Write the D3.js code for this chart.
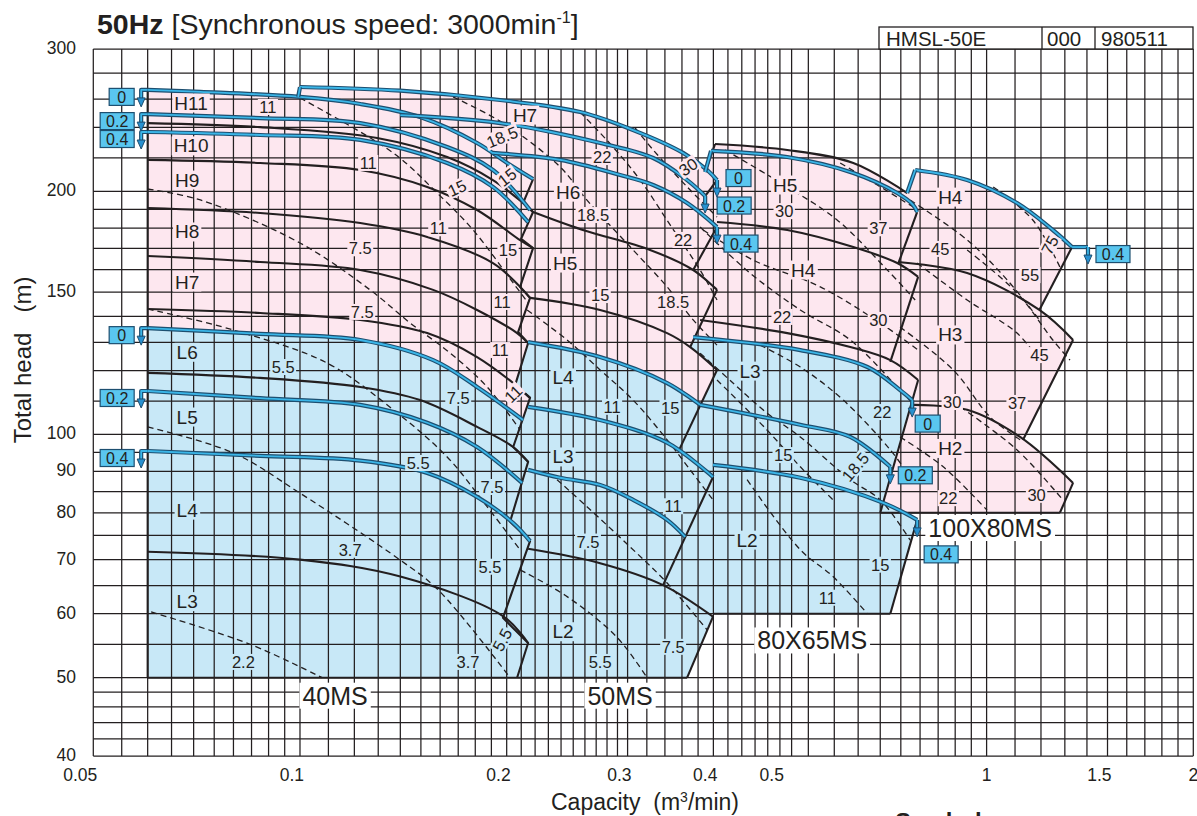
<!DOCTYPE html>
<html><head><meta charset="utf-8">
<script src="https://cdn.jsdelivr.net/npm/d3@7"></script>
<style>body{margin:0;background:#fff}svg text{font-family:"Liberation Sans",Arial,Helvetica,sans-serif;fill:#231f20}</style>
</head><body><svg id="c" width="1197" height="816"></svg>
<script>
// ---------------- grid / axes ----------------
const gridQ=[0.05,0.055,0.06,0.065,0.07,0.075,0.08,0.085,0.09,0.095,0.1,0.11,0.12,0.13,0.14,0.15,0.16,0.17,0.18,0.19,0.2,0.21,0.22,0.23,0.24,0.25,0.26,0.27,0.28,0.29,0.3,0.32,0.34,0.36,0.38,0.4,0.42,0.44,0.46,0.48,0.5,0.52,0.55,0.6,0.65,0.7,0.75,0.8,0.85,0.9,0.95,1,1.1,1.2,1.3,1.4,1.5,1.6,1.7,1.8,1.9,2];
const gridH=[40,42,44,46,48,50,55,60,65,70,75,80,85,90,95,100,110,120,130,140,150,160,170,180,190,200,220,240,260,280,300];
const xTicks=["0.05","0.1","0.2","0.3","0.4","0.5","1","1.5","2"];
const yTicks=["40","50","60","70","80","90","100","150","200","300"];

// ---------------- 40MS ----------------
const ms40_H0=[[0.06,267.0],[0.0716,265.5],[0.1,261.7],[0.1224,256.5],[0.1496,247.1],[0.1811,229.5],[0.2003,216.8],[0.2185,207.1]];
const ms40_H02=[[0.06,249.2],[0.0875,246.4],[0.1224,242.9],[0.1638,226.9],[0.191,212.5],[0.2163,189.6]];
const ms40_Hk1=[[0.06,242.9],[0.0875,240.1],[0.1295,232.8],[0.1638,220.5],[0.191,206.5],[0.2113,193.4],[0.2185,188.5]];
const ms40_H04=[[0.06,236.8],[0.0875,234.8],[0.1224,231.5],[0.1638,216.8],[0.191,202.5],[0.2149,183.2]];
const ms40_Hk2=[[0.06,218.7],[0.0875,216.8],[0.1224,212.5],[0.1532,202.5],[0.1811,189.6],[0.2092,174.0],[0.2185,170.1]];
const ms40_Hk3=[[0.06,190.7],[0.0875,188.0],[0.1224,182.7],[0.1532,175.6],[0.191,163.0],[0.2092,152.3],[0.2163,147.6]];
const ms40_Hk4=[[0.06,166.3],[0.0875,163.5],[0.1224,159.8],[0.1563,151.0],[0.1811,142.6],[0.2071,133.5],[0.2149,129.8]];
const ms40_Hk5=[[0.06,143.0],[0.0875,141.4],[0.1224,138.6],[0.1532,133.5],[0.1811,124.7],[0.2044,115.8],[0.2163,111.0]];
const ms40_L0=[[0.06,135.4],[0.0875,133.2],[0.1224,130.9],[0.1563,123.6],[0.1811,114.5],[0.2113,104.2]];
const ms40_Lk1=[[0.06,119.2],[0.0875,117.5],[0.1224,114.5],[0.1496,110.3],[0.1811,102.2],[0.2044,96.5],[0.2149,92.5]];
const ms40_L02=[[0.06,113.2],[0.0875,110.9],[0.1224,108.8],[0.1532,103.4],[0.1811,96.5],[0.2106,87.1]];
const ms40_L04=[[0.06,95.4],[0.0875,94.1],[0.1224,92.8],[0.1532,89.6],[0.1811,83.7],[0.2044,77.7],[0.2163,73.8]];
const ms40_Lk2=[[0.06,71.6],[0.1,70.0],[0.14,66.7],[0.1975,59.6],[0.2149,55.2]];
const ms40_edge=[[0.2185,207.1],[0.2113,193.4],[0.2185,188.5],[0.2099,174.6],[0.2185,170.1],[0.2092,152.3],[0.2163,147.6],[0.2078,133.9],[0.2149,129.8],[0.2058,115.2],[0.2163,111.0],[0.2044,96.5],[0.2149,92.5],[0.2023,78.0],[0.2163,73.8],[0.1975,59.3],[0.2149,55.2],[0.2071,50]];
const ms40_side=[[0.06,50],[0.06,267.0]];
const ms40_base=[[0.06,50],[0.3663,50]];

// ---------------- 50MS ----------------
const ms50_hook=[[0.0994,261.7],[0.1,269.2]];
const ms50_H0=[[0.1,269.2],[0.14,266.4],[0.1957,259.4],[0.2558,250.7],[0.3056,238.1],[0.3614,223.1],[0.3917,212.5],[0.4049,206.5]];
const ms50_H02=[[0.14,248.5],[0.1957,242.9],[0.2736,229.5],[0.3269,219.9],[0.3663,206.5],[0.3891,197.3]];
const ms50_H04=[[0.191,223.1],[0.2392,218.7],[0.2925,209.5],[0.3269,203.6],[0.3663,193.4],[0.4049,180.6]];
const ms50_Hk1=[[0.2185,188.5],[0.2582,179.1],[0.3235,169.2],[0.3738,159.8],[0.4049,151.0]];
const ms50_Hk2=[[0.2163,147.6],[0.2736,142.6],[0.3425,133.5],[0.3701,128.3],[0.4049,120.2]];
const ms50_L0=[[0.2149,130.1],[0.2736,124.7],[0.3425,115.8],[0.3826,108.8]];
const ms50_L02=[[0.2149,108.2],[0.2736,104.2],[0.3425,97.7],[0.3995,88.6]];
const ms50_L04=[[0.2149,90.4],[0.2392,88.4],[0.2736,86.6],[0.3056,83.0],[0.3425,78.4],[0.3639,74.7]];
const ms50_Lk=[[0.2149,72.2],[0.2736,69.3],[0.3379,65.1],[0.3995,59.5]];
const ms50_edges=[[[0.4049,206.5],[0.3891,197.3]],[[0.4049,180.6],[0.3738,159.8]],[[0.4049,151.0],[0.3701,128.3]],[[0.4049,120.2],[0.3566,95.7]],[[0.3995,88.6],[0.3379,65.1]],[[0.3995,59.5],[0.3663,50]]];

// ---------------- 80X65MS ----------------
const ms80_Hhook=[[0.3891,211.3],[0.4022,228.8]];
const ms80_Htop=[[0.4022,228.8],[0.5125,225.0],[0.6395,216.8],[0.7661,199.0]];
const ms80_H0hook=[[0.3891,211.3],[0.3969,224.4]];
const ms80_H0=[[0.3969,224.4],[0.5125,220.5],[0.6395,210.7],[0.7409,199.0],[0.7818,192.3],[0.7922,188.5]];
const ms80_Hk1=[[0.4049,183.2],[0.5125,179.1],[0.6395,170.6],[0.7409,163.0],[0.7948,156.7]];
const ms80_Hk2=[[0.3826,138.6],[0.5125,133.5],[0.6331,128.3],[0.724,123.6],[0.7948,116.8]];
const ms80_L0=[[0.3738,132.0],[0.5354,127.2],[0.6705,121.2],[0.7481,113.5],[0.7792,110.3]];
const ms80_L02=[[0.3826,108.8],[0.5354,102.8],[0.6331,99.3],[0.724,91.2]];
const ms80_L04=[[0.3995,91.7],[0.5354,88.4],[0.7072,82.3],[0.7922,78.4]];
const ms80_edges=[[[0.7922,188.5],[0.7433,162.6]],[[0.7948,156.7],[0.724,123.0]],[[0.7948,116.8],[0.7,80]],[[0.7922,78.4],[0.724,60]],[[0.3995,60],[0.724,60]]];

// ---------------- 100X80MS ----------------
const ms100_hook=[[0.7661,199.0],[0.787,212.5]];
const ms100_H04=[[0.787,212.5],[0.9368,206.5],[1.1075,193.4],[1.2485,179.1],[1.3318,170.6]];
const ms100_tail=[[1.3318,170.6],[1.4049,170.6]];
const ms100_Hk1=[[0.7433,163.5],[0.9368,158.4],[1.1936,142.6],[1.3364,130.9]];
const ms100_Hk2=[[0.7818,108.8],[0.9368,107.3],[1.1187,99.3],[1.3364,87.1]];
const ms100_edges=[[[1.3318,170.6],[1.1936,142.6]],[[1.3364,130.9],[1.13,98.5]],[[1.3364,87.1],[1.2785,80]],[[0.7,80],[1.2785,80]]];

// ---------------- power (dashed) curves ----------------
const d40_1=[[0.1,260.9],[0.1367,223.1],[0.1584,199.0],[0.1787,179.1],[0.2044,154.0],[0.2149,145.5]];
const d40_2=[[0.06,201.3],[0.0716,195.1],[0.1,172.6],[0.1265,151.0],[0.1447,137.4],[0.1655,126.1],[0.1873,114.5],[0.2092,101.3]];
const d40_3=[[0.06,143.0],[0.0799,134.7],[0.1095,122.6],[0.1367,107.3],[0.1638,93.8],[0.1873,81.4],[0.2092,72.0]];
const d40_4=[[0.06,102.2],[0.0799,94.9],[0.1,84.6],[0.14,69.9],[0.159,64.2],[0.2023,50]];
const d40_5=[[0.0607,60.3],[0.0846,55],[0.1077,50]];
const d50_1=[[0.1671,261.7],[0.1976,242.9],[0.2392,214.4],[0.2618,195],[0.3056,169.2],[0.3425,152.3],[0.3738,138.6],[0.4049,129.0]];
const d50_2=[[0.2558,250.7],[0.2857,226.9],[0.3129,206.5],[0.346,181.7],[0.3826,159.8],[0.4049,146.7]];
const d50_3=[[0.3077,239.5],[0.3269,225.0],[0.3663,202.5],[0.4049,185.9]];
const d50_4=[[0.2142,142.6],[0.2449,130.9],[0.2736,120.2],[0.3056,110.3],[0.3425,98.5],[0.3701,90.4],[0.3995,83.0]];
const d50_5=[[0.2368,87.9],[0.2618,81.4],[0.3025,72.6],[0.3425,65.5],[0.3917,57.3]];
const d50_6=[[0.2092,68.0],[0.2449,63.0],[0.2895,56.1],[0.3202,50]];
const d80_1=[[0.4159,225.0],[0.5125,202.5],[0.6057,184.3],[0.7168,159.8],[0.787,146.7]];
const d80_2=[[0.612,216.8],[0.6932,203.6],[0.7818,191.2]];
const d80_3=[[0.3865,179.1],[0.457,164.4],[0.5725,152.3],[0.7,137.4],[0.7948,127.2]];
const d80_4=[[0.3826,180.6],[0.4524,158.4],[0.5354,142.6],[0.6331,130.9],[0.7481,113.5],[0.7792,109.4]];
const d80_5=[[0.3826,126.1],[0.4272,115.8],[0.4788,106.3],[0.5354,99.3],[0.6331,87.9],[0.7,83.0],[0.774,74.0]];
const d80_6=[[0.4678,129.0],[0.5354,121.2],[0.6184,110.3],[0.724,95.7],[0.7609,90.4]];
const d80_7=[[0.4049,116.8],[0.4788,101.3],[0.5354,91.2],[0.5975,83.0]];
const d80_8=[[0.4479,87.9],[0.5354,72.0],[0.5975,66.7],[0.6705,60]];
const d100_1=[[1.0225,202.5],[1.1674,184.3],[1.2785,161.2]];
const d100_2=[[0.774,195],[0.9368,174.1],[1.0718,155.3],[1.1936,138.6]];
const d100_3=[[0.7922,163.0],[0.9368,146.7],[1.1075,133.5],[1.1936,123.6]];
const d100_4=[[0.9368,169.2],[1.1075,149.7],[1.2485,130.9],[1.3227,123.6]];
const d100_5=[[0.7481,135.8],[0.8941,120.2],[1.012,105.1],[1.1187,98.5]];
const d100_6=[[0.9153,108.2],[1.1075,95.7],[1.2914,83.0]];
const d100_7=[[0.7481,99.3],[0.8647,91.2],[1.0014,80.6]];

// ---------------- labels ----------------
const stageLabels=[["H11",0.0694,257.2,"p"],["H10",0.0694,227.6,"p"],["H9",0.0685,206.5,"p"],["H8",0.0685,178.1,"p"],["H7",0.0685,154.4,"p"],["L6",0.0685,126.4,"b"],["L5",0.0685,105.1,"b"],["L4",0.0685,80.6,"b"],["L3",0.0685,62.1,"b"],
["H7",0.2127,248.5,"p"],["H6",0.2457,199.5,"p"],["H5",0.2433,163.0,"p"],["L4",0.2416,117.5,"b"],["L3",0.2416,93.8,"b"],["L2",0.2416,57.0,"b"],
["H5",0.509,203.6,"p"],["H4",0.5407,159.8,"p"],["L3",0.4524,119.8,"b"],["L2",0.4479,74.0,"b"],
["H4",0.8853,196.7,"p"],["H3",0.8853,132.8,"p"],["H2",0.8853,96.1,"p"]];
const kwLabels=[["11",0.0898,254.3,"p",0],["11",0.1257,216.8,"p",0],["15",0.1693,201.9,"p",25],["15",0.2003,208.3,"p",38],["11",0.159,180,"p",0],["15",0.2009,169.2,"p",0],["7.5",0.1224,170,"p",0],["7.5",0.1232,141.8,"p",0],["11",0.197,145.9,"p",0],["11",0.1957,127.2,"p",0],["5.5",0.0945,121.2,"b",0],["7.5",0.17,111.0,"b",0],["11",0.2044,112.3,"p",45],["5.5",0.1486,92.2,"b",0],["7.5",0.1904,86.1,"b",0],["3.7",0.1183,72.0,"b",0],["5.5",0.1891,68.6,"b",0],["5.5",0.197,55.7,"b",62],["2.2",0.0827,52.3,"b",0],["3.7",0.1757,52.3,"b",0],
["18.5",0.1969,233.5,"p",22],["22",0.2755,220.5,"p",0],["30",0.3676,214.4,"p",35],["18.5",0.2673,186.9,"p",0],["22",0.3614,174.1,"p",0],["15",0.2736,148.8,"p",0],["18.5",0.3495,145.9,"p",0],["11",0.2848,108.2,"b",0],["15",0.346,107.9,"b",0],["11",0.3495,81.5,"b",0],["7.5",0.2627,73.7,"b",0],["5.5",0.2736,52.3,"b",0],["7.5",0.3495,54.6,"b",0],
["30",0.5072,189.0,"p",0],["37",0.6955,180,"p",0],["22",0.5037,139.8,"p",0],["30",0.6955,138.6,"p",0],["22",0.7048,106.6,"b",0],["15",0.5055,94.3,"b",0],["18.5",0.6437,91.2,"b",50],["15",0.7,69.0,"b",0],["11",0.586,62.8,"b",0],
["45",0.8559,169.7,"p",0],["75",1.2356,171.6,"p",62],["55",1.1562,157.5,"p",0],["45",1.1936,125.4,"p",0],["30",0.8912,109.7,"p",0],["37",1.1075,109.4,"p",0],["22",0.8794,83.4,"p",0],["30",1.1824,84.2,"p",0]];
const modelLabels=[["40MS",0.1125,47.5],["50MS",0.2925,47.5],["80X65MS",0.5571,55.6],["100X80MS",1.012,76.6]];
const flowTags=[[ms40_H0,"start","0"],[ms40_H02,"start","0.2"],[ms40_H04,"start","0.4"],[ms40_L0,"start","0"],[ms40_L02,"start","0.2"],[ms40_L04,"start","0.4"],
[ms50_H0,"end","0",9,-2],[ms50_H02,"end","0.2",12,9.5],[ms50_H04,"end","0.4",7,16.5],
[ms80_L0,"end","0",3,23.5],[ms80_L02,"end","0.2",8,8.5],[ms80_L04,"end","0.4",7,34.5],[ms100_tail,"end","0.4",8,7]];

// ---------------- drawing ----------------
const svg=d3.select("#c");
const x=d3.scaleLog().domain([0.05,2]).range([93.3,1193.3]);
const y=d3.scaleLog().domain([40,300]).range([756,49]);
const PINK="#fde7ef",BLUE="#c8e8f7",INK="#231f20",BDARK="#1d4f70",BLITE="#3bb6e8";
const cg=d3.line().x(d=>x(d[0])).y(d=>y(d[1])).curve(d3.curveCatmullRom.alpha(0.5));
const lg=d3.line().x(d=>x(d[0])).y(d=>y(d[1]));
function join(pieces){let s="";pieces.forEach((p,i)=>{let t=(p[1]?cg:lg)(p[0]);if(i>0)t="L"+t.slice(1);s+=t;});return s+"Z";}
const rev=a=>a.slice().reverse();

const gF=svg.append("g");
function fill(pieces,c){gF.append("path").attr("d",join(pieces)).attr("fill",c).attr("stroke","none");}
// 100X80MS
fill([[ms100_hook,0],[ms100_H04,1],[[[1.3318,170.6],[1.1936,142.6],[1.3364,130.9],[1.13,98.5]],0],[ms100_Hk2.slice(2),1],[[[1.3364,87.1],[1.2785,80],[0.7,80],[0.7,163.5]],0]],PINK);
// 80X65MS
fill([[ms80_Hhook,0],[ms80_Htop,1],[[[0.7661,199.0],[0.7922,188.5],[0.7433,162.6],[0.7948,156.7],[0.724,123.0],[0.7948,116.8],[0.7,80],[0.33,80],[0.33,211.3]],0]],PINK);
fill([[ms80_L0,1],[[[0.7792,110.3],[0.7072,82.3]],0],[ms80_L04.slice(2),1],[[[0.7922,78.4],[0.724,60],[0.33,60],[0.33,132.0]],0]],BLUE);
// 50MS
fill([[ms50_hook,0],[ms50_H0,1],[[[0.4049,206.5],[0.3891,197.3],[0.4049,180.6],[0.3738,159.8]],0],[ms50_Hk1.slice(3),1],[[[0.4049,151.0],[0.3701,128.3],[0.4049,120.2],[0.3826,108.8]],0],[rev(ms50_L0),1],[[[0.2149,130.1],[0.0994,130.1]],0]],PINK);
fill([[ms50_L0,1],[[[0.3826,108.8],[0.3566,95.7],[0.3995,88.6],[0.3379,65.1]],0],[ms50_Lk.slice(2),1],[[[0.3995,59.5],[0.3663,50],[0.15,50],[0.15,130.1]],0]],BLUE);
// 40MS
fill([[ms40_H0,1],[ms40_edge.slice(1,11),0],[[[0.2113,104.2]],0],[rev(ms40_L0),1]],PINK);
fill([[ms40_L0,1],[ms40_edge.slice(11),0],[[[0.06,50]],0]],BLUE);

// grid
const gG=svg.append("g").attr("stroke",INK).attr("stroke-width",1.25);
gridQ.forEach(q=>gG.append("line").attr("x1",x(q)).attr("x2",x(q)).attr("y1",y(40)).attr("y2",y(300)));
gridH.forEach(h=>gG.append("line").attr("y1",y(h)).attr("y2",y(h)).attr("x1",x(0.05)).attr("x2",x(2)));

// dashed
const gD=svg.append("g").attr("fill","none").attr("stroke",INK).attr("stroke-width",1.3).attr("stroke-dasharray","6,4");
[d40_1,d40_2,d40_3,d40_4,d40_5,d50_1,d50_2,d50_3,d50_4,d50_5,d50_6,d80_1,d80_2,d80_3,d80_4,d80_5,d80_6,d80_7,d80_8,d100_1,d100_2,d100_3,d100_4,d100_5,d100_6,d100_7].forEach(c=>gD.append("path").attr("d",cg(c)));

// black head curves and outlines
const gK=svg.append("g").attr("fill","none").attr("stroke",INK).attr("stroke-width",2.1).attr("stroke-linejoin","round");
[ms40_Hk1,ms40_Hk2,ms40_Hk3,ms40_Hk4,ms40_Hk5,ms40_Lk1,ms40_Lk2,ms50_Hk1,ms50_Hk2,ms50_Lk,ms80_Htop,ms80_Hk1,ms80_Hk2,ms100_Hk1,ms100_Hk2].forEach(c=>gK.append("path").attr("d",cg(c)));
[ms40_edge,ms40_side,ms40_base,ms80_Hhook,...ms50_edges,...ms80_edges,...ms100_edges].forEach(c=>gK.append("path").attr("d",lg(c)));

// blue curves (double line)
const gB=svg.append("g").attr("fill","none").attr("stroke-linejoin","round");
function blue(d){gB.append("path").attr("d",d).attr("stroke",BDARK).attr("stroke-width",4.2);gB.append("path").attr("d",d).attr("stroke",BLITE).attr("stroke-width",1.8);}
[ms40_H0,ms40_H02,ms40_H04,ms40_L0,ms40_L02,ms40_L04,ms50_H0,ms50_H02,ms50_H04,ms50_L0,ms50_L02,ms50_L04,ms80_H0,ms80_L0,ms80_L02,ms80_L04,ms100_H04].forEach(c=>blue(cg(c)));
[ms50_hook,ms80_H0hook,ms100_hook,ms100_tail].forEach(c=>blue(lg(c)));

// arrows + tag boxes
const gT=svg.append("g");
flowTags.forEach(t=>{
  const pts=t[0];let px,py,ax;
  if(t[1]==="start"){px=x(pts[0][0]);py=y(pts[0][1]);ax=px-6.5;blue(`M${px},${py}H${ax}V${py+9}`);}
  else{const p=pts[pts.length-1];px=x(p[0]);py=y(p[1]);ax=px;blue(`M${ax},${py}V${py+9}`);}
  gT.append("path").attr("d",`M${ax-4},${py+8}L${ax+4},${py+8}L${ax},${py+17}Z`).attr("fill","#2891d0").attr("stroke",BDARK).attr("stroke-width",1);
  const w=t[2].length>1?34:25,hgt=17;
  let bx,cy;
  if(t[1]==="start"){bx=ax-7-w;cy=py+7;}else{bx=px+t[3];cy=py+t[4];}
  gT.append("rect").attr("x",bx).attr("y",cy-hgt/2).attr("width",w).attr("height",hgt).attr("fill","#5ac6ef").attr("stroke",BDARK).attr("stroke-width",1.2);
  gT.append("text").attr("x",bx+w/2).attr("y",cy+0.5).attr("text-anchor","middle").attr("dominant-baseline","central").attr("font-size",16).text(t[2]);
});

// labels with knock-out background
const gL=svg.append("g");
const bgc={p:PINK,b:BLUE,w:"#fff"};
function label(txt,q,h,bg,size,rot,pad){
  const g=gL.append("g").attr("transform",`translate(${x(q)},${y(h)}) rotate(${-rot||0})`);
  const r=g.append("rect").attr("fill",bgc[bg]);
  const t=g.append("text").attr("text-anchor","middle").attr("dominant-baseline","central").attr("font-size",size).text(txt);
  const b=t.node().getBBox();
  r.attr("x",b.x-pad).attr("y",b.y+1).attr("width",b.width+2*pad).attr("height",b.height-2);
}
stageLabels.forEach(d=>label(d[0],d[1],d[2],d[3],19,0,2));
kwLabels.forEach(d=>label(d[0],d[1],d[2],d[3],16.5,d[4],1.5));
modelLabels.forEach(d=>label(d[0],d[1],d[2],"w",25,0,3));

// tick labels
const gA=svg.append("g");
xTicks.forEach(s=>{const v=+s;const one=s.length===1;gA.append("text").attr("x",one?x(v):x(v)+4).attr("y",781).attr("text-anchor",one?"middle":"end").attr("font-size",17.5).text(s);});
yTicks.forEach(s=>{gA.append("text").attr("x",76).attr("y",y(+s)-1).attr("dominant-baseline","central").attr("text-anchor","end").attr("font-size",17.5).text(s);});

// titles
const tt=svg.append("text").attr("x",97).attr("y",34).attr("font-size",28.5);
tt.append("tspan").attr("font-weight","bold").text("50Hz");
tt.append("tspan").text(" [Synchronous speed: 3000min");
tt.append("tspan").attr("font-size",16).attr("dy",-11).text("-1");
tt.append("tspan").attr("dy",11).text("]");
svg.append("text").attr("transform","translate(31,360) rotate(-90)").attr("text-anchor","middle").attr("font-size",24).text("Total head\u00a0\u00a0\u00a0(m)");
const xt=svg.append("text").attr("x",645).attr("y",810).attr("text-anchor","middle").attr("font-size",23);
xt.append("tspan").text("Capacity\u00a0\u00a0(m");
xt.append("tspan").attr("font-size",14).attr("dy",-8).text("3");
xt.append("tspan").attr("dy",8).text("/min)");
svg.append("text").attr("x",895).attr("y",830).attr("font-size",24).attr("font-weight","bold").text("Symbols");

// info box
const gI=svg.append("g");
gI.append("rect").attr("x",879).attr("y",27).attr("width",314).attr("height",22).attr("fill","#fff").attr("stroke",INK).attr("stroke-width",1.3);
[1042,1095].forEach(v=>gI.append("line").attr("x1",v).attr("x2",v).attr("y1",27).attr("y2",49).attr("stroke",INK).attr("stroke-width",1.3));
[["HMSL-50E",886],["000",1047],["980511",1101]].forEach(d=>gI.append("text").attr("x",d[1]).attr("y",45.5).attr("font-size",20.5).text(d[0]));
</script></body></html>
